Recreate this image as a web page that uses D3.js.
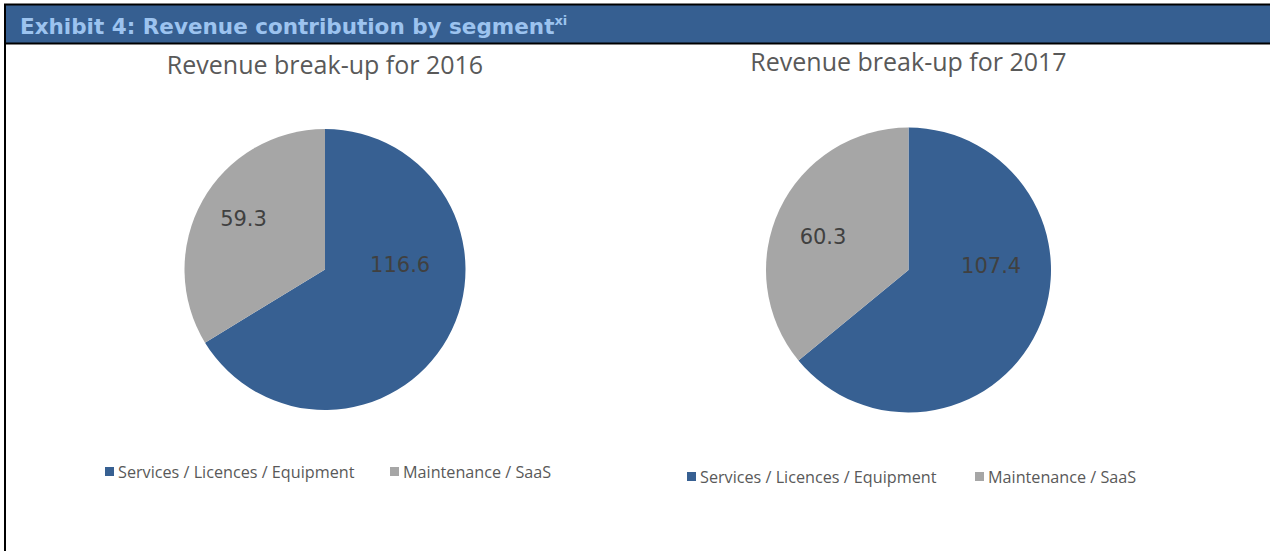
<!DOCTYPE html>
<html>
<head>
<meta charset="utf-8">
<script src="https://cdn.jsdelivr.net/npm/d3@7"></script>
<style>
  html, body { margin: 0; padding: 0; background: #ffffff; }
  svg { display: block; }
</style>
</head>
<body>
<svg id="chart" width="1270" height="551"></svg>
<script>
// ---- data ----
const categories = ["Services / Licences / Equipment", "Maintenance / SaaS"];
const years = ["2016", "2017"];
const values2016 = [116.6, 59.3];
const values2017 = [107.4, 60.3];
const headerTitle = "Exhibit 4: Revenue contribution by segment";
const headerNote = "xi";
const chartTitles = ["Revenue break-up for 2016", "Revenue break-up for 2017"];

// ---- layout / style ----
const colors = ["#376092", "#a6a6a6"];
const panels = [
  { cx: 325, cy: 269.5, r: 140.5, titleX: 325, titleY: 74, legendY: 472, legendX: [105, 390],
    labelPos: [[0.535, -0.03], [-0.58, -0.36]], values: values2016 },
  { cx: 908.5, cy: 270, r: 142.5, titleX: 908.5, titleY: 71, legendY: 477, legendX: [687, 975],
    labelPos: [[0.58, -0.03], [-0.60, -0.23]], values: values2017 }
];

const svg = d3.select("#chart");

// frame
svg.append("rect").attr("x", 5).attr("y", 5).attr("width", 1265).attr("height", 38).attr("fill", "#365f91");
svg.append("line").attr("x1", 4).attr("x2", 1270).attr("y1", 4.5).attr("y2", 4.5).attr("stroke", "#000").attr("stroke-width", 2);
svg.append("line").attr("x1", 5).attr("x2", 5).attr("y1", 4).attr("y2", 551).attr("stroke", "#000").attr("stroke-width", 2);
svg.append("line").attr("x1", 5).attr("x2", 1270).attr("y1", 43.5).attr("y2", 43.5).attr("stroke", "#000").attr("stroke-width", 2);

const ht = svg.append("text").attr("x", 20).attr("y", 34)
  .attr("font-family", "DejaVu Sans, Verdana, sans-serif").attr("font-weight", "bold")
  .attr("font-size", 21.5).attr("fill", "#9cc3ef");
ht.append("tspan").text(headerTitle);
ht.append("tspan").attr("font-size", 13).attr("dy", -9).text(headerNote);

const pie = d3.pie().sort(null).value(d => d);

panels.forEach((p, i) => {
  const g = svg.append("g");
  g.append("text").attr("x", p.titleX).attr("y", p.titleY).attr("text-anchor", "middle")
    .attr("font-family", "Open Sans, Noto Sans, sans-serif").attr("font-size", 25)
    .attr("fill", "#595959").text(chartTitles[i]);

  const arc = d3.arc().innerRadius(0).outerRadius(p.r);
  const pg = g.append("g").attr("transform", `translate(${p.cx},${p.cy})`);
  const arcs = pie(p.values);
  pg.selectAll("path").data(arcs).join("path")
    .attr("d", arc).attr("fill", (d, j) => colors[j]);

  pg.selectAll("text.lbl").data(arcs).join("text").attr("class", "lbl")
    .attr("x", (d, j) => p.labelPos[j][0] * p.r)
    .attr("y", (d, j) => p.labelPos[j][1] * p.r)
    .attr("text-anchor", "middle").attr("dominant-baseline", "central")
    .attr("font-family", "DejaVu Sans, Verdana, sans-serif").attr("font-size", 21)
    .attr("fill", "#404040").text(d => d.value.toFixed(1));

  const lg = g.append("g");
  categories.forEach((c, j) => {
    lg.append("rect").attr("x", p.legendX[j]).attr("y", p.legendY - 5).attr("width", 9).attr("height", 9)
      .attr("fill", colors[j]);
    lg.append("text").attr("x", p.legendX[j] + 13).attr("y", p.legendY)
      .attr("dominant-baseline", "central")
      .attr("font-family", "Open Sans, Noto Sans, sans-serif").attr("font-size", 16.2)
      .attr("fill", "#595959").text(c);
  });
});
</script>
</body>
</html>
